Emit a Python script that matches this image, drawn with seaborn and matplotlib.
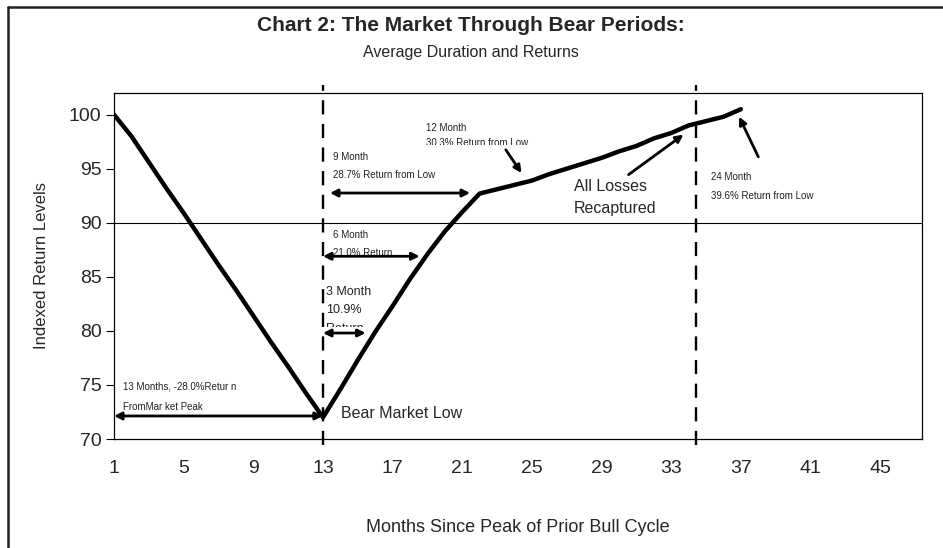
import matplotlib
matplotlib.use('Agg')
import matplotlib.pyplot as plt
from matplotlib.lines import Line2D
from matplotlib.transforms import Bbox, TransformedBbox
import seaborn as sns
import pandas as pd

sns.set_style('white')
plt.rcParams['font.family'] = ['Liberation Sans Narrow', 'Liberation Sans', 'DejaVu Sans']

# data
months = list(range(1, 38))
index_level = [100.0, 98.0, 95.6, 93.2, 90.9, 88.5, 86.1, 83.8, 81.4, 79.0, 76.7, 74.3, 72.0,
               74.6, 77.3, 79.9, 82.3, 84.8, 87.1, 89.2, 91.0, 92.7,
               93.1, 93.5, 93.9, 94.5, 95.0, 95.5, 96.0, 96.6, 97.1, 97.8, 98.3, 99.0, 99.4, 99.8, 100.5]
xtick_months = [1, 5, 9, 13, 17, 21, 25, 29, 33, 37, 41, 45]
ytick_levels = [70, 75, 80, 85, 90, 95, 100]
bear_low_month = 13
recapture_month = 34.4

df = pd.DataFrame({'month': months, 'level': index_level})

fig = plt.figure(figsize=(9.43, 5.48), dpi=100)
ax = fig.add_axes([0.1209, 0.1989, 0.8568, 0.6314])

sns.lineplot(data=df, x='month', y='level', color='black', linewidth=3.2, ax=ax, zorder=5)

ax.set_xlim(1, 47.4)
ax.set_ylim(70, 102)
ax.set_xticks(xtick_months)
ax.set_yticks(ytick_levels)
ax.tick_params(axis='x', length=0, pad=15, labelsize=14)
ax.tick_params(axis='y', length=6, width=0.8, direction='out', pad=3, labelsize=14, left=True, color='black')
for s in ax.spines.values():
    s.set_color('black')
    s.set_linewidth(0.9)
ax.axhline(90, color='black', linewidth=0.8, zorder=1)

# dashed markers
for xv in [bear_low_month, recapture_month]:
    ax.plot([xv, xv], [69.45, 102.75], color='black', linewidth=1.7, linestyle=(0, (6, 4)),
            clip_on=False, zorder=4)

ax.set_xlabel('Months Since Peak of Prior Bull Cycle', fontsize=13, labelpad=30)
ax.set_ylabel('Indexed Return Levels', fontsize=12, labelpad=14)

fig.text(0.4995, 0.953, 'Chart 2: The Market Through Bear Periods:', ha='center', va='center',
         fontsize=15, fontweight='bold')
fig.text(0.4995, 0.904, 'Average Duration and Returns', ha='center', va='center', fontsize=11.5)

# frame around figure (top and left only visible)
fig.add_artist(Line2D([8 / 943, 1.0], [1 - 7 / 548, 1 - 7 / 548], transform=fig.transFigure,
                      color='#222222', linewidth=1.8))
fig.add_artist(Line2D([8 / 943, 8 / 943], [0.0, 1 - 7 / 548], transform=fig.transFigure,
                      color='#222222', linewidth=1.8))

sans = ['Liberation Sans', 'DejaVu Sans']
small = dict(fontsize=7, family=sans, color='#222222', va='center', ha='left')
mid = dict(fontsize=9, family=sans, color='#222222', va='center', ha='left')
dbl = dict(arrowstyle='<|-|>', color='black', lw=2, mutation_scale=11, shrinkA=0, shrinkB=0)
single = dict(arrowstyle='-|>', color='black', lw=2, mutation_scale=11, shrinkA=0, shrinkB=0)


def clipped(x, y, s, clip_y, **kw):
    # text box cut off at its bottom, as in the original
    t = ax.text(x, y, s, **kw)
    t.set_clip_path(None)
    t.set_clip_box(TransformedBbox(Bbox([[0, clip_y], [60, 200]]), ax.transData))
    t.set_clip_on(True)
    return t


# 13 month decline
ax.text(1.5, 74.85, '13 Months, -28.0%Retur n', **small)
ax.text(1.5, 73.0, 'FromMar ket Peak', **small)
ax.annotate('', xy=(1, 72.13), xytext=(13, 72.13), arrowprops=dbl)
ax.text(14.05, 72.4, 'Bear Market Low', fontsize=11.5, va='center', ha='left', family=sans)

# 3 month
ax.text(13.15, 83.6, '3 Month', **mid)
ax.text(13.15, 81.9, '10.9%', **mid)
clipped(13.15, 80.2, 'Return', 80.35, **mid)
ax.annotate('', xy=(13, 79.8), xytext=(15.45, 79.8), arrowprops=dbl)

# 6 month
ax.text(13.6, 88.85, '6 Month', **small)
clipped(13.6, 87.2, '21.0% Return', 87.0, **small)
ax.annotate('', xy=(13, 86.9), xytext=(18.55, 86.9), arrowprops=dbl)

# 9 month
ax.text(13.6, 96.1, '9 Month', **small)
ax.text(13.6, 94.4, '28.7% Return from Low', **small)
ax.annotate('', xy=(13.4, 92.75), xytext=(21.45, 92.75), arrowprops=dbl)

# 12 month
ax.text(18.9, 98.8, '12 Month', **small)
clipped(18.9, 97.4, '30.3% Return from Low', 97.2, **small)
ax.annotate('', xy=(24.4, 94.6), xytext=(23.5, 96.75), arrowprops=single)

# recapture
ax.text(27.4, 93.35, 'All Losses', fontsize=11.5, va='center', ha='left', family=sans)
ax.text(27.4, 91.35, 'Recaptured', fontsize=11.5, va='center', ha='left', family=sans)
ax.annotate('', xy=(33.7, 98.15), xytext=(30.55, 94.45), arrowprops=single)

# 24 month
ax.text(35.3, 94.2, '24 Month', **small)
ax.text(35.3, 92.5, '39.6% Return from Low', **small)
ax.annotate('', xy=(36.9, 99.8), xytext=(38.0, 96.1), arrowprops=single)

fig.savefig('out.png', dpi=100)
